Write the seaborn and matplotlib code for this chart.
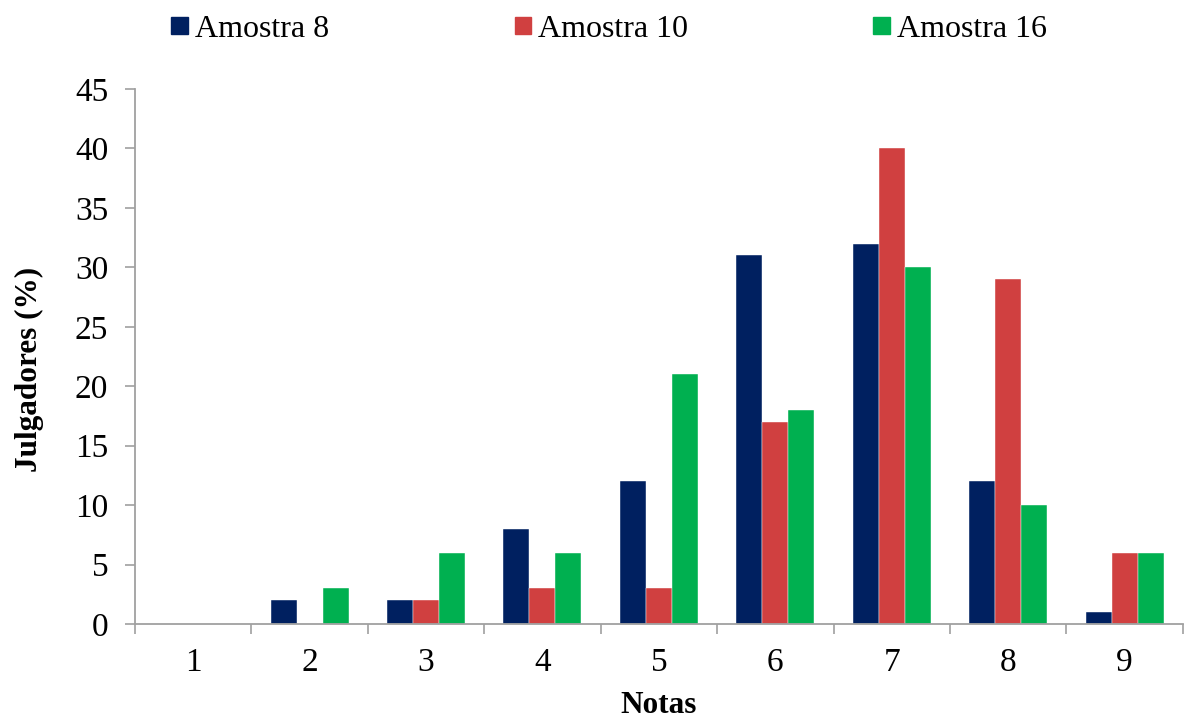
import matplotlib
matplotlib.use("Agg")
import matplotlib.pyplot as plt
import seaborn as sns
import pandas as pd
import numpy as np

# Distribution of scores given by judges for three samples
notas = ["1", "2", "3", "4", "5", "6", "7", "8", "9"]
amostra_8 = [0, 2, 2, 8, 12, 31, 32, 12, 1]
amostra_10 = [0, 0, 2, 3, 3, 17, 40, 29, 6]
amostra_16 = [0, 3, 6, 6, 21, 18, 30, 10, 6]
series_names = ["Amostra 8", "Amostra 10", "Amostra 16"]
colors = ["#002060", "#D04040", "#00B050"]

df = pd.DataFrame({
    "Notas": notas * 3,
    "Julgadores": amostra_8 + amostra_10 + amostra_16,
    "Amostra": [series_names[0]] * 9 + [series_names[1]] * 9 + [series_names[2]] * 9,
})

sns.set_style("white")
plt.rcParams["font.family"] = ["Liberation Serif", "DejaVu Serif"]
plt.rcParams["text.color"] = "black"
plt.rcParams["axes.labelcolor"] = "black"
plt.rcParams["xtick.color"] = "black"
plt.rcParams["ytick.color"] = "black"

fig = plt.figure(figsize=(11.9, 7.22), dpi=100)
ax = fig.add_axes([0.1134, 0.1357, 0.8806, 0.741])

sns.barplot(data=df, x="Notas", y="Julgadores", hue="Amostra",
            order=notas, hue_order=series_names, palette=colors,
            width=0.67, gap=0, saturation=1, ax=ax, legend=False,
            edgecolor="white", linewidth=0.3)

ax.set_xlim(-0.5, len(notas) - 0.5)
ax.set_ylim(0, 45)
ax.set_yticks(np.arange(0, 46, 5))
ax.tick_params(axis="y", labelsize=24, length=7.2, width=1.2, color="#A0A0A0",
               labelcolor="black", direction="out", left=True, pad=12)

# category labels centred, tick marks on the boundaries
ax.set_xticks(np.arange(len(notas)))
ax.set_xticklabels(notas)
ax.tick_params(axis="x", which="major", length=0, labelsize=24, pad=17,
               labelcolor="black")
ax.set_xticks(np.arange(-0.5, len(notas)), minor=True)
ax.tick_params(axis="x", which="minor", length=7, width=1.2, color="#A0A0A0",
               direction="out", bottom=True)

for side in ["top", "right"]:
    ax.spines[side].set_visible(False)
for side in ["left", "bottom"]:
    ax.spines[side].set_color("#A0A0A0")
    ax.spines[side].set_linewidth(1.3)

ax.set_xlabel("Notas", fontsize=22.5, fontweight="bold", labelpad=9)
ax.set_ylabel("Julgadores (%)", fontsize=22.5, fontweight="bold", labelpad=22)
ax.yaxis.label.set_y(0.476)

handles = [plt.Rectangle((0, 0), 1, 1, color=c) for c in colors]
fig.legend(handles, series_names, loc="upper center", bbox_to_anchor=(0.512, 1.019),
           ncol=3, frameon=False, fontsize=23, handlelength=0.52, handleheight=0.45,
           handletextpad=0.22, columnspacing=5.8)

fig.savefig("out.png", dpi=100)
